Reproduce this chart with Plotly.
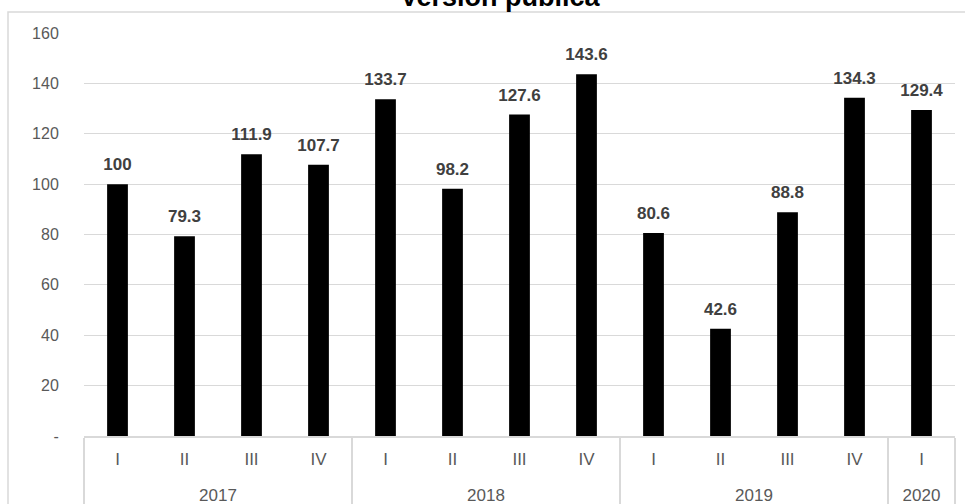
import plotly.graph_objects as go

years = ["2017"] * 4 + ["2018"] * 4 + ["2019"] * 4 + ["2020"]
quarters = ["I", "II", "III", "IV"] * 3 + ["I"]
values = [100, 79.3, 111.9, 107.7, 133.7, 98.2, 127.6, 143.6, 80.6, 42.6, 88.8, 134.3, 129.4]
labels = ["100", "79.3", "111.9", "107.7", "133.7", "98.2", "127.6", "143.6", "80.6", "42.6", "88.8", "134.3", "129.4"]

L, R, T, B = 84, 10, 33, 68
W, H = 965, 504
pw, ph = W - L - R, H - T - B
FONT = "Liberation Sans, Arial"

# year labels sit one (empty) line lower, as in the source
year_axis = ["<br>" + y for y in years]

fig = go.Figure()
fig.add_trace(go.Bar(
    x=[year_axis, quarters],
    y=values,
    marker=dict(color="black", line=dict(width=0)),
    hoverinfo="skip",
))
# value labels above bars
fig.add_trace(go.Scatter(
    x=[year_axis, quarters],
    y=values,
    mode="markers+text",
    text=labels,
    textposition="top center",
    marker=dict(size=14, color="rgba(0,0,0,0)"),
    textfont=dict(family=FONT, size=17, color="#404040", weight="bold"),
    cliponaxis=False,
    hoverinfo="skip",
))

fig.update_layout(
    width=W, height=H,
    margin=dict(l=L, r=R, t=T, b=B),
    paper_bgcolor="white", plot_bgcolor="white",
    bargap=0.69,
    showlegend=False,
    font=dict(family=FONT, size=16, color="#595959"),
    xaxis=dict(
        type="multicategory",
        range=[-0.5, 12.5], autorange=False,
        showline=True, linecolor="#d9d9d9", linewidth=1.5,
        showdividers=True, dividercolor="#d9d9d9", dividerwidth=1.5,
        tickfont=dict(family=FONT, size=17, color="#595959"),
        showgrid=False, ticks="", ticklabelstandoff=7,
        automargin=False,
    ),
    yaxis=dict(
        range=[0, 160],
        tickvals=[0, 20, 40, 60, 80, 100, 120, 140, 160],
        ticktext=["-", "20", "40", "60", "80", "100", "120", "140", "160"],
        showgrid=True, gridcolor="#d9d9d9", gridwidth=1.2,
        zeroline=False, showline=False,
        ticks="outside", ticklen=21, tickcolor="rgba(0,0,0,0)",
        tickfont=dict(family=FONT, size=16, color="#595959"),
        automargin=False,
    ),
)

# outer chart border
fig.add_shape(type="rect", xref="paper", yref="paper",
              x0=(8 - L) / pw, x1=(W + 5 - L) / pw,
              y0=(H - (H + 5) - B) / ph, y1=(H - 12 - B) / ph,
              line=dict(color="#d9d9d9", width=1.5), fillcolor="rgba(0,0,0,0)", layer="below")

# title, cut off at the top as in the source image
fig.add_annotation(text="<b>Versión pública</b>", xref="paper", yref="paper",
                   x=(500 - L) / pw, y=(H + 3 - B) / ph, xanchor="center", yanchor="middle",
                   showarrow=False, font=dict(family=FONT, size=27, color="black"))

fig.write_html("out.html", config={"displayModeBar": False},
               post_script="document.body.style.margin='0';document.body.style.overflow='hidden';")
